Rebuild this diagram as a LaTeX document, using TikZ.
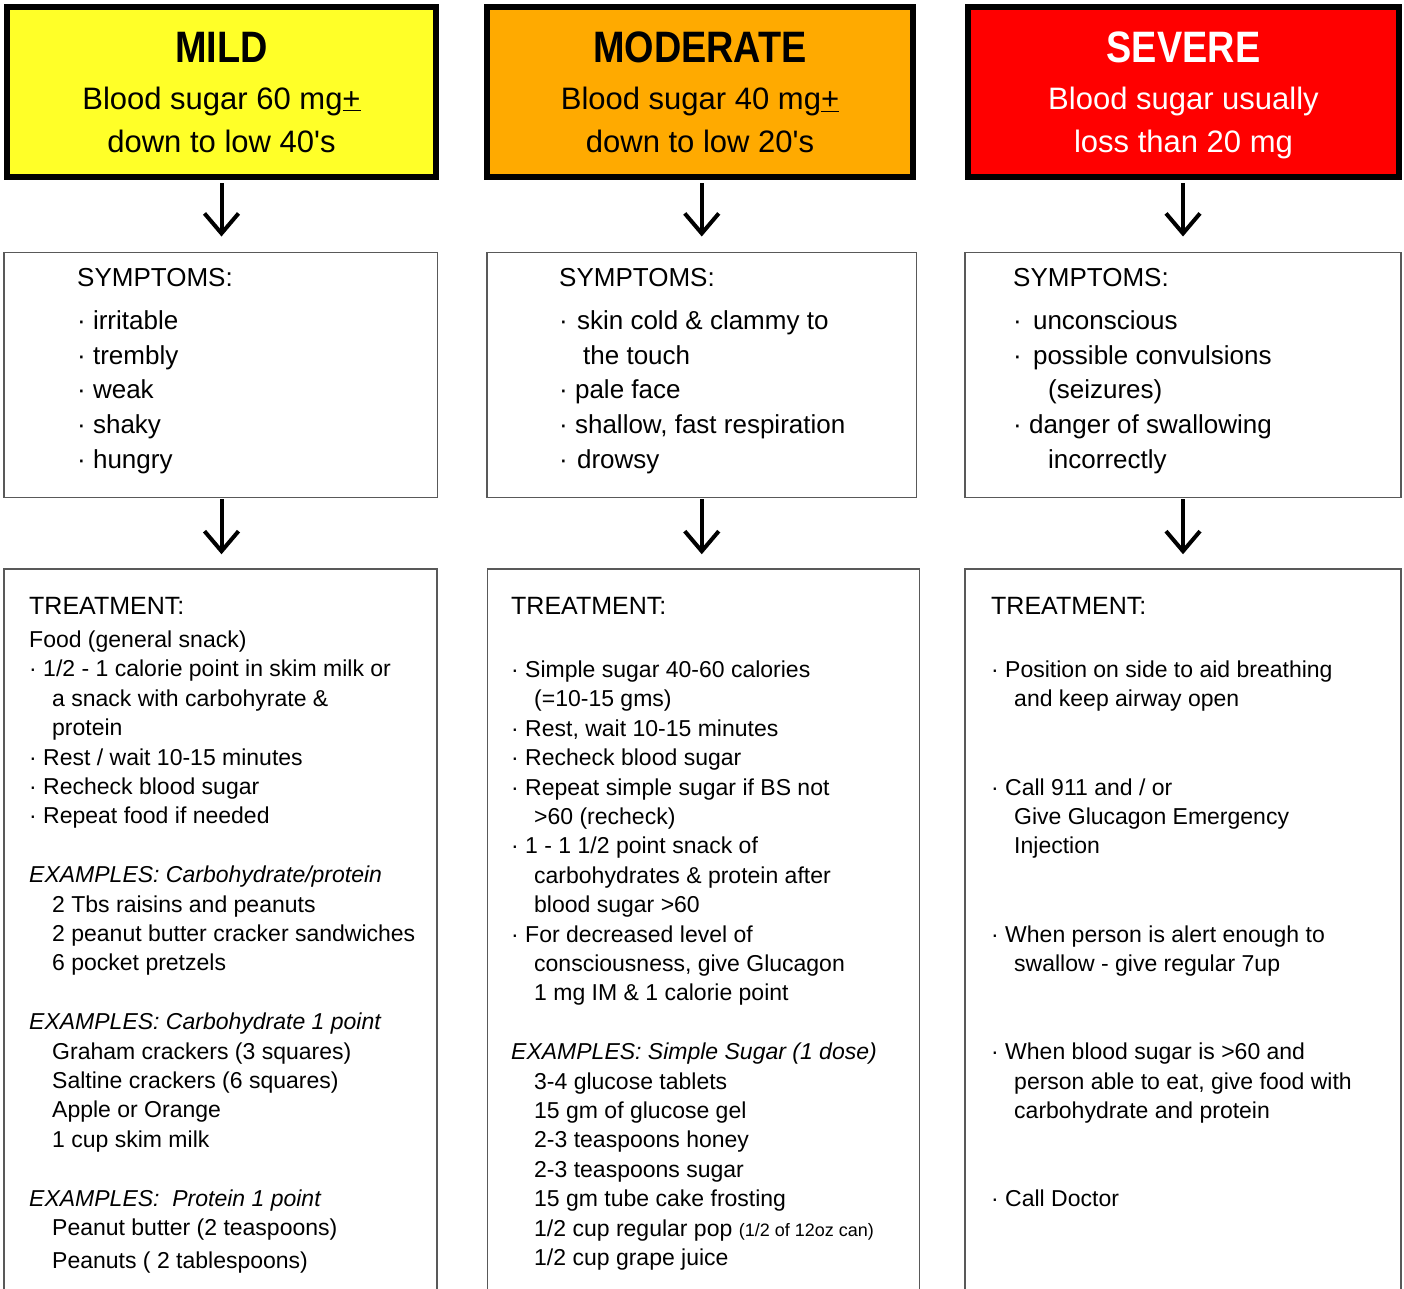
\documentclass[tikz,border=0pt]{standalone}
\usepackage{fontspec}
\setmainfont{Liberation Sans}
\newfontfamily\headfont[FakeStretch=0.86]{Liberation Sans}
\usetikzlibrary{arrows.meta,positioning}
\definecolor{mildyellow}{RGB}{255,255,40}
\definecolor{modorange}{RGB}{255,170,0}
\definecolor{sevred}{RGB}{255,0,0}
\newcommand{\ind}{\hspace*{23pt}}

\begin{document}
\begin{tikzpicture}[x=1pt, y=-1pt,
  head/.style={draw, line width=6pt, rectangle, minimum height=170pt, align=center, inner sep=0pt,
    text depth=-6pt, font=\fontsize{31}{43}\selectfont},
  panel/.style={draw=black!65, line width=1.5pt, rectangle, inner sep=0pt},
  symtext/.style={anchor=north west, inner sep=0pt, align=left, font=\fontsize{26}{34.7}\selectfont},
  treattext/.style={anchor=north west, inner sep=0pt, align=left, font=\fontsize{23}{29.4}\selectfont},
  arr/.style={line width=4pt, -{Straight Barb[length=20pt,width=34pt]}}]
\useasboundingbox (0,0) rectangle (1404,1288);
\clip (0,0) rectangle (1404,1288);

% level boxes
\node[head, fill=mildyellow, minimum width=429pt] (mild) at (221.5,92)
  {{\headfont\bfseries\fontsize{44}{44}\selectfont MILD}\\[4pt]
   Blood sugar 60 mg\underline{+}\\
   down to low 40\textquotesingle s};
\node[head, fill=modorange, minimum width=426pt] (moderate) at (700,92)
  {{\headfont\bfseries\fontsize{44}{44}\selectfont MODERATE}\\[4pt]
   Blood sugar 40 mg\underline{+}\\
   down to low 20\textquotesingle s};
\node[head, fill=sevred, text=white, minimum width=431pt] (severe) at (1183.5,92)
  {{\headfont\bfseries\fontsize{44}{44}\selectfont SEVERE}\\[4pt]
   Blood sugar usually\\
   loss than 20 mg};

% symptom boxes
\node[panel, minimum width=433.5pt, minimum height=245pt] (mildsym) at (220.75,374.75) {};
\node[panel, minimum width=429.5pt, minimum height=245pt] (modsym) at (701.75,374.75) {};
\node[panel, minimum width=436pt, minimum height=245pt] (sevsym) at (1183,374.75) {};

\node[symtext] (mildsymtext) at (77,268) {SYMPTOMS:\\[8.3pt]
  · irritable\\
  · trembly\\
  · weak\\
  · shaky\\
  · hungry};
\node[symtext] (modsymtext) at (559,268) {SYMPTOMS:\\[8.3pt]
  · \hspace{2pt}skin cold \& clammy to\\
  \hspace*{24pt}the touch\\
  · pale face\\
  · shallow, fast respiration\\
  · \hspace{2pt}drowsy};
\node[symtext] (sevsymtext) at (1013,268) {SYMPTOMS:\\[8.3pt]
  · \hspace{4pt}unconscious\\
  · \hspace{4pt}possible convulsions\\
  \hspace*{35pt}(seizures)\\
  · danger of swallowing\\
  \hspace*{35pt}incorrectly};

% treatment boxes (run past the bottom edge)
\node[panel, minimum width=433pt, minimum height=731pt] (mildtreat) at (220.5,934.5) {};
\node[panel, minimum width=432pt, minimum height=731pt] (modtreat) at (703.3,934.5) {};
\node[panel, minimum width=436pt, minimum height=731pt] (sevtreat) at (1183,934.5) {};

\node[treattext] (mildtreattext) at (29,597) {{\fontsize{25}{29.4}\selectfont TREATMENT:}\\[3.6pt]
  Food (general snack)\\
  · 1/2 - 1 calorie point in skim milk or\\
  \ind a snack with carbohyrate \&\\
  \ind protein\\
  · Rest / wait 10-15 minutes\\
  · Recheck blood sugar\\
  · Repeat food if needed\\[29.4pt]
  \textit{EXAMPLES: Carbohydrate/protein}\\
  \ind 2 Tbs raisins and peanuts\\
  \ind 2 peanut butter cracker sandwiches\\
  \ind 6 pocket pretzels\\[29.4pt]
  \textit{EXAMPLES: Carbohydrate 1 point}\\
  \ind Graham crackers (3 squares)\\
  \ind Saltine crackers (6 squares)\\
  \ind Apple or Orange\\
  \ind 1 cup skim milk\\[29.4pt]
  \textit{EXAMPLES:\ \ Protein 1 point}\\
  \ind Peanut butter (2 teaspoons)\\[3.6pt]
  \ind Peanuts ( 2 tablespoons)};
\node[treattext] (modtreattext) at (511,597) {{\fontsize{25}{29.4}\selectfont TREATMENT:}\\[33.6pt]
  · Simple sugar 40-60 calories\\
  \ind (=10-15 gms)\\
  · Rest, wait 10-15 minutes\\
  · Recheck blood sugar\\
  · Repeat simple sugar if BS not\\
  \ind >60 (recheck)\\
  · 1 - 1 1/2 point snack of\\
  \ind carbohydrates \& protein after\\
  \ind blood sugar >60\\
  · For decreased level of\\
  \ind consciousness, give Glucagon\\
  \ind 1 mg IM \& 1 calorie point\\[29.4pt]
  \textit{EXAMPLES: Simple Sugar (1 dose)}\\
  \ind 3-4 glucose tablets\\
  \ind 15 gm of glucose gel\\
  \ind 2-3 teaspoons honey\\
  \ind 2-3 teaspoons sugar\\
  \ind 15 gm tube cake frosting\\
  \ind 1/2 cup regular pop {\fontsize{18}{29.4}\selectfont (1/2 of 12oz can)}\\
  \ind 1/2 cup grape juice};
\node[treattext] (sevtreattext) at (991,597) {{\fontsize{25}{29.4}\selectfont TREATMENT:}\\[33.6pt]
  · Position on side to aid breathing\\
  \ind and keep airway open\\[58.8pt]
  · Call 911 and / or\\
  \ind Give Glucagon Emergency\\
  \ind Injection\\[58.8pt]
  · When person is alert enough to\\
  \ind swallow - give regular 7up\\[58.8pt]
  · When blood sugar is >60 and\\
  \ind person able to eat, give food with\\
  \ind carbohydrate and protein\\[58.8pt]
  · Call Doctor};

% arrows
\draw[arr, shorten <=3pt, shorten >=15pt] (mild.south) -- (mild.south |- mildsym.north);
\draw[arr, shorten <=3pt, shorten >=15pt] (moderate.south -| modsym.north) -- (modsym.north);
\draw[arr, shorten <=3pt, shorten >=15pt] (severe.south -| sevsym.north) -- (sevsym.north);
\draw[arr, shorten <=1pt, shorten >=14pt] (mildsym.south -| mild.south) -- (mild.south |- mildtreat.north);
\draw[arr, shorten <=1pt, shorten >=14pt] (modsym.south) -- (modsym.south |- modtreat.north);
\draw[arr, shorten <=1pt, shorten >=14pt] (sevsym.south) -- (sevsym.south |- sevtreat.north);
\end{tikzpicture}
\end{document}
